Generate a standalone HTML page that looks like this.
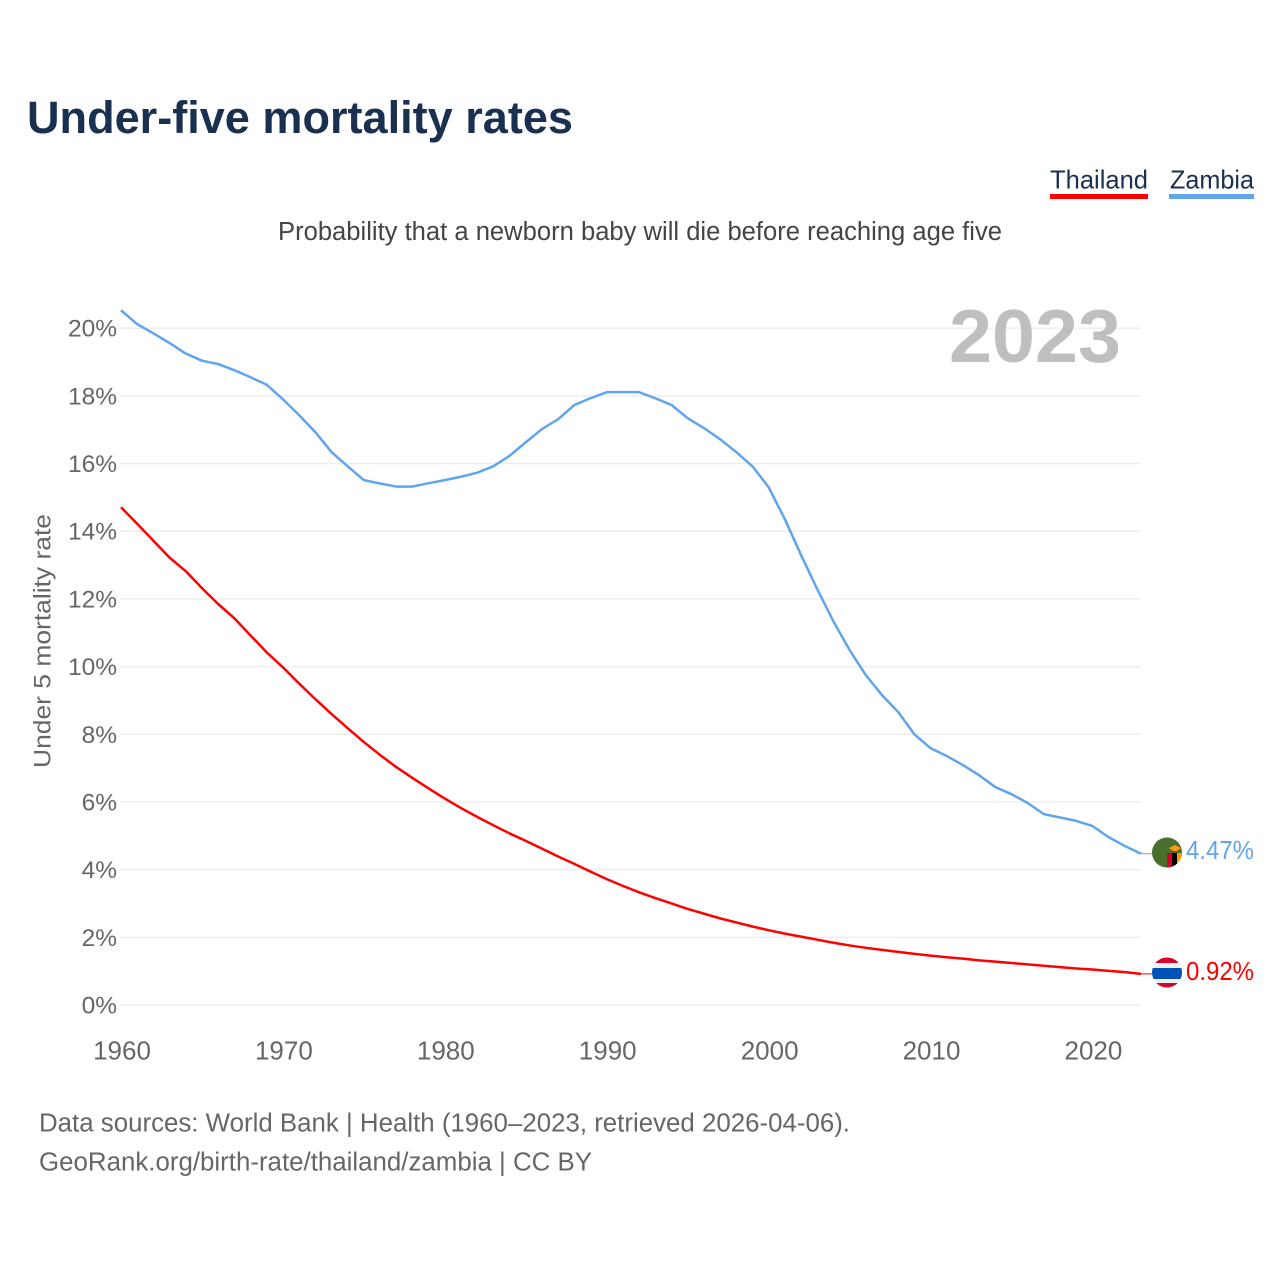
<!DOCTYPE html>
<html lang="en">
<head>
<meta charset="utf-8">
<title>Under-five mortality rates</title>
<style>
html,body{margin:0;padding:0;background:#fff;}
svg{display:block;}
text{font-family:"Liberation Sans",sans-serif;}
</style>
</head>
<body>
<svg id="chart" xmlns="http://www.w3.org/2000/svg" width="1280" height="1280" viewBox="0 0 1280 1280">
  <defs>
    <clipPath id="clip-zm"><circle cx="1167" cy="852.5" r="15"/></clipPath>
    <clipPath id="clip-th"><circle cx="1167" cy="972.5" r="15"/></clipPath>
  </defs>
  <rect width="1280" height="1280" fill="#fff"/>
  <text x="27" y="133" font-size="45" font-weight="700" fill="#1a3050" textLength="546" lengthAdjust="spacingAndGlyphs">Under-five mortality rates</text>
  <text x="1050" y="188.5" font-size="26" fill="#1a3050" textLength="98" lengthAdjust="spacingAndGlyphs">Thailand</text>
  <rect x="1050" y="194" width="98" height="5" fill="#ff0000"/>
  <text x="1170" y="188.5" font-size="26" fill="#1a3050" textLength="84" lengthAdjust="spacingAndGlyphs">Zambia</text>
  <rect x="1169" y="194" width="85" height="5" fill="#60a5ec"/>
  <text x="278" y="240" font-size="25.5" fill="#444444" textLength="724" lengthAdjust="spacingAndGlyphs">Probability that a newborn baby will die before reaching age five</text>
  <text transform="translate(50.5,768) rotate(-90)" x="0" y="0" font-size="24.5" fill="#666666" textLength="254" lengthAdjust="spacingAndGlyphs">Under 5 mortality rate</text>
  <g id="grid"></g>
  <g id="yticks"></g>
  <g id="xticks"></g>
  <text x="949" y="362" font-size="75" font-weight="700" fill="#bfbfbf" textLength="172" lengthAdjust="spacingAndGlyphs">2023</text>
  <g id="series"></g>
  <g clip-path="url(#clip-zm)">
    <rect x="1152" y="837" width="30" height="31" fill="#496e2d"/>
    <rect x="1167" y="853" width="5" height="15" fill="#d80027"/>
    <rect x="1172" y="853" width="5" height="15" fill="#000000"/>
    <rect x="1177" y="853" width="5" height="15" fill="#ff9811"/>
    <polygon points="1169,848 1175,845 1181,848 1177,851 1173,851" fill="#ff9811"/>
  </g>
  <g clip-path="url(#clip-th)">
    <rect x="1152" y="957" width="30" height="31" fill="#f0f0f0"/>
    <rect x="1152" y="957" width="30" height="6" fill="#d80027"/>
    <rect x="1152" y="968" width="30" height="11" fill="#0052b4"/>
    <rect x="1152" y="983" width="30" height="5" fill="#d80027"/>
  </g>
  <text id="label-zm" x="1186" y="859" font-size="25.5" fill="#60a5ec" textLength="68" lengthAdjust="spacingAndGlyphs"></text>
  <text id="label-th" x="1186" y="980" font-size="25.5" fill="#ff0000" textLength="68" lengthAdjust="spacingAndGlyphs"></text>
  <text x="39" y="1131.5" font-size="25.5" fill="#666666" textLength="811" lengthAdjust="spacingAndGlyphs">Data sources: World Bank | Health (1960–2023, retrieved 2026-04-06).</text>
  <text x="39" y="1170.5" font-size="25.5" fill="#666666" textLength="553" lengthAdjust="spacingAndGlyphs">GeoRank.org/birth-rate/thailand/zambia | CC BY</text>
</svg>
<script>
const startYear = 1960;
const yTickValues = [0, 2, 4, 6, 8, 10, 12, 14, 16, 18, 20];
const xTickYears = [1960, 1970, 1980, 1990, 2000, 2010, 2020];
const thailandValues = [14.71,14.22,13.72,13.22,12.82,12.32,11.85,11.43,10.92,10.42,9.98,9.5,9.04,8.6,8.18,7.77,7.39,7.03,6.71,6.4,6.1,5.82,5.56,5.31,5.07,4.85,4.62,4.39,4.17,3.94,3.72,3.52,3.33,3.16,3.0,2.84,2.7,2.56,2.44,2.32,2.21,2.11,2.02,1.93,1.84,1.76,1.69,1.63,1.57,1.51,1.46,1.41,1.37,1.32,1.28,1.24,1.2,1.16,1.12,1.08,1.05,1.01,0.97,0.92];
const zambiaValues = [20.53,20.12,19.85,19.56,19.25,19.04,18.94,18.76,18.55,18.33,17.9,17.43,16.93,16.34,15.92,15.51,15.41,15.32,15.32,15.42,15.51,15.61,15.73,15.92,16.23,16.63,17.02,17.31,17.73,17.93,18.11,18.11,18.11,17.93,17.73,17.34,17.05,16.72,16.34,15.92,15.3,14.36,13.3,12.29,11.34,10.49,9.75,9.16,8.66,8.0,7.59,7.36,7.09,6.79,6.44,6.23,5.97,5.64,5.54,5.44,5.29,4.96,4.7,4.47];

const NS = 'http://www.w3.org/2000/svg';
const xScale = function (year) { return 121 + (year - 1960) * (1141 - 121) / 63; };
const yScale = function (v) { return 1005 - v * 33.84; };

const grid = document.getElementById('grid');
const yticks = document.getElementById('yticks');
yTickValues.forEach(function (v) {
  const line = document.createElementNS(NS, 'line');
  
  
  line.setAttribute('x1', 120);
  line.setAttribute('x2', 1141);
  line.setAttribute('y1', yScale(v));
  line.setAttribute('y2', yScale(v));
  line.setAttribute('stroke', '#eeeeee');
  line.setAttribute('stroke-width', '1.5');
  grid.appendChild(line);

  const t = document.createElementNS(NS, 'text');
  
  
  t.setAttribute('x', 117);
  t.setAttribute('y', yScale(v) + 8.5);
  t.setAttribute('text-anchor', 'end');
  t.setAttribute('font-size', '24.5');
  t.setAttribute('fill', '#666666');
  t.textContent = v + '%';
  yticks.appendChild(t);
});

const xticks = document.getElementById('xticks');
xTickYears.forEach(function (yr) {
  const t = document.createElementNS(NS, 'text');
  
  
  t.setAttribute('x', xScale(yr) + 1);
  t.setAttribute('y', 1059.5);
  t.setAttribute('text-anchor', 'middle');
  t.setAttribute('font-size', '26');
  t.setAttribute('fill', '#666666');
  t.textContent = yr;
  xticks.appendChild(t);
});

function pointsFor(values) {
  return values.map(function (v, i) {
    return xScale(startYear + i).toFixed(2) + ',' + yScale(v).toFixed(2);
  }).join(' ');
}

const seriesGroup = document.getElementById('series');

const thaiLine = document.createElementNS(NS, 'polyline');


thaiLine.setAttribute('points', pointsFor(thailandValues));
thaiLine.setAttribute('fill', 'none');
thaiLine.setAttribute('stroke', '#ff0000');
thaiLine.setAttribute('stroke-width', '2.5');
thaiLine.setAttribute('stroke-linejoin', 'round');
seriesGroup.appendChild(thaiLine);

const zamLine = document.createElementNS(NS, 'polyline');


zamLine.setAttribute('points', pointsFor(zambiaValues));
zamLine.setAttribute('fill', 'none');
zamLine.setAttribute('stroke', '#60a5ec');
zamLine.setAttribute('stroke-width', '2.5');
zamLine.setAttribute('stroke-linejoin', 'round');
seriesGroup.appendChild(zamLine);

const lastThai = thailandValues[thailandValues.length - 1];
const lastZam = zambiaValues[zambiaValues.length - 1];

const thaiLead = document.createElementNS(NS, 'line');


thaiLead.setAttribute('x1', 1141);
thaiLead.setAttribute('x2', 1153);
thaiLead.setAttribute('y1', yScale(lastThai));
thaiLead.setAttribute('y2', yScale(lastThai));
thaiLead.setAttribute('stroke', '#ff0000');
thaiLead.setAttribute('stroke-width', '1');
seriesGroup.appendChild(thaiLead);

const zamLead = document.createElementNS(NS, 'line');


zamLead.setAttribute('x1', 1141);
zamLead.setAttribute('x2', 1153);
zamLead.setAttribute('y1', yScale(lastZam));
zamLead.setAttribute('y2', yScale(lastZam));
zamLead.setAttribute('stroke', '#60a5ec');
zamLead.setAttribute('stroke-width', '1');
seriesGroup.appendChild(zamLead);

document.getElementById('label-th').textContent = lastThai.toFixed(2) + '%';
document.getElementById('label-zm').textContent = lastZam.toFixed(2) + '%';
</script>
</body>
</html>
